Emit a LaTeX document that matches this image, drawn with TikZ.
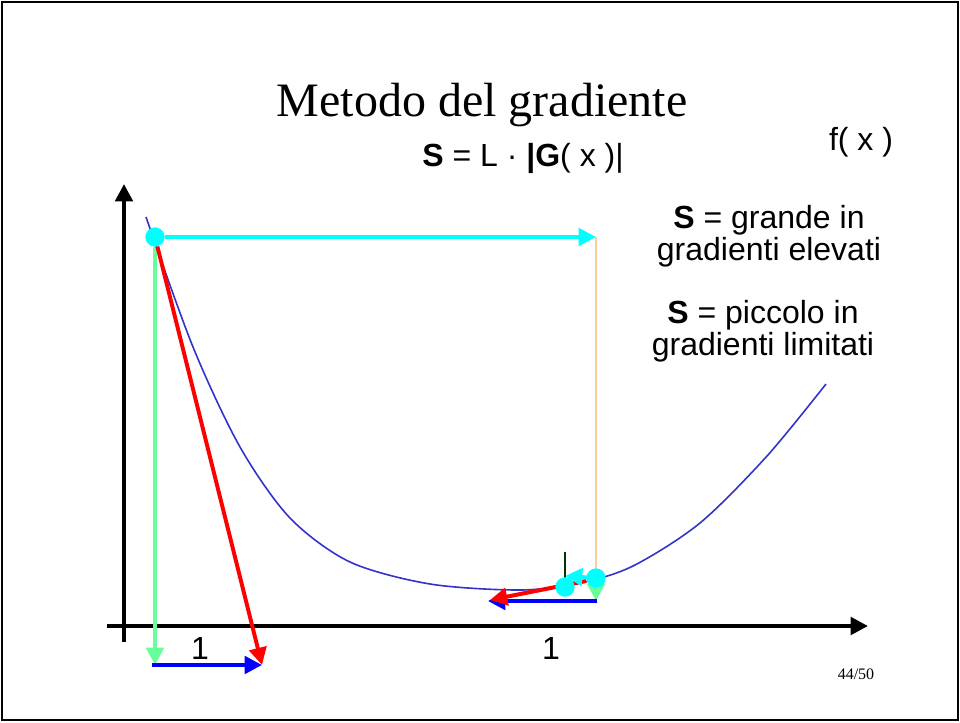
\documentclass[tikz,border=0pt]{standalone}
\usepackage{fontspec}
\setmainfont{Liberation Serif}
\newfontfamily\arialfont{Liberation Sans}
\usetikzlibrary{arrows.meta}
\definecolor{curveblue}{HTML}{3333CC}
\definecolor{stepcyan}{HTML}{00FFFF}
\definecolor{stepgreen}{HTML}{66FF99}
\definecolor{stepred}{HTML}{FF0000}
\definecolor{stepblue}{HTML}{0000FF}
\definecolor{guideorange}{HTML}{FFCC99}
\definecolor{markgreen}{HTML}{003300}
\tikzstyle{axisline} = [line width=3pt, -{Triangle[length=13pt,width=13pt]}]
\tikzstyle{steparrow} = [line width=3pt, -{Triangle[length=13pt,width=13pt]}]
\tikzstyle{dot} = [circle, fill=stepcyan, inner sep=0pt, minimum size=14.5pt]
\tikzstyle{sidetext} = [font=\arialfont\fontsize{24}{24}\selectfont, align=center, inner sep=0pt]

\begin{document}
\begin{tikzpicture}[x=0.75pt, y=-0.75pt]
  \useasboundingbox (0,0) rectangle (960,722);
  \draw[line width=1.5pt] (2,2) rectangle (958,720);

  % titolo e testi
  \node (title) at (482,105) {\fontsize{36}{36}\selectfont Metodo del gradiente};
  \node (formula) [sidetext] at (523,158) {\textbf{S} = L · \textbf{|G}( x )|};
  \node (fx) [sidetext] at (861,142) {f( x )};
  \node (big) [sidetext] at (769,236) {\textbf{S} = grande in\\gradienti elevati};
  \node (small) [sidetext] at (763,331) {\textbf{S} = piccolo in\\gradienti limitati};
  \node (one1) [sidetext] at (200,648) {1};
  \node (one2) [sidetext] at (551,648) {1};
  \node (page) at (856,674) {\fontsize{12}{12}\selectfont 44/50};

  % assi
  \coordinate (ybot) at (124,642);
  \coordinate (ytop) at (124,184);
  \coordinate (xleft) at (107,626);
  \coordinate (xright) at (868,626);
  \draw[axisline] (ybot) -- (ytop);
  \draw[axisline] (xleft) -- (xright);

  % funzione
  \draw[curveblue, line width=1.2pt] plot[smooth, tension=0.5] coordinates {
    (146,217) (193,347) (240,447) (290,518) (350,562) (430,584)
    (520,590) (580,583) (633,566) (700,523) (767,456) (826,384)};

  % passo grande
  \node (p0) [dot] at (155,237) {};
  \coordinate (c0) at (596,237);
  \coordinate (g0) at (155,665);
  \coordinate (r0) at (262,665);
  \coordinate (b0) at (152,665);
  \draw[guideorange, line width=1.2pt] (c0) -- (596,578);
  \draw[steparrow, stepgreen] (p0) -- (g0);
  \draw[steparrow, stepcyan] (p0) -- (c0);
  \draw[steparrow, stepred] (p0) -- (r0);
  \draw[steparrow, stepblue] (b0) -- (r0);

  % passo piccolo
  \coordinate (p1) at (596,578);
  \coordinate (p2) at (565,587);
  \coordinate (g1) at (596,601);
  \coordinate (c1) at (565,576);
  \coordinate (r1) at (490,600);
  \coordinate (b1) at (597,601);
  \coordinate (b2) at (488,601);
  \coordinate (m0) at (565,552);
  \draw[markgreen, line width=1.2pt] (m0) -- (p2);
  \draw[steparrow, stepgreen] (p1) -- (g1);
  \draw[steparrow, stepblue] (b1) -- (b2);
  \draw[steparrow, stepred] ([shift={(-10,3)}]p1) -- (r1);
  \draw[steparrow, stepcyan] (p1) -- (c1);
  \node (d1) [dot] at (p1) {};
  \node (d2) [dot] at (p2) {};
\end{tikzpicture}
\end{document}
